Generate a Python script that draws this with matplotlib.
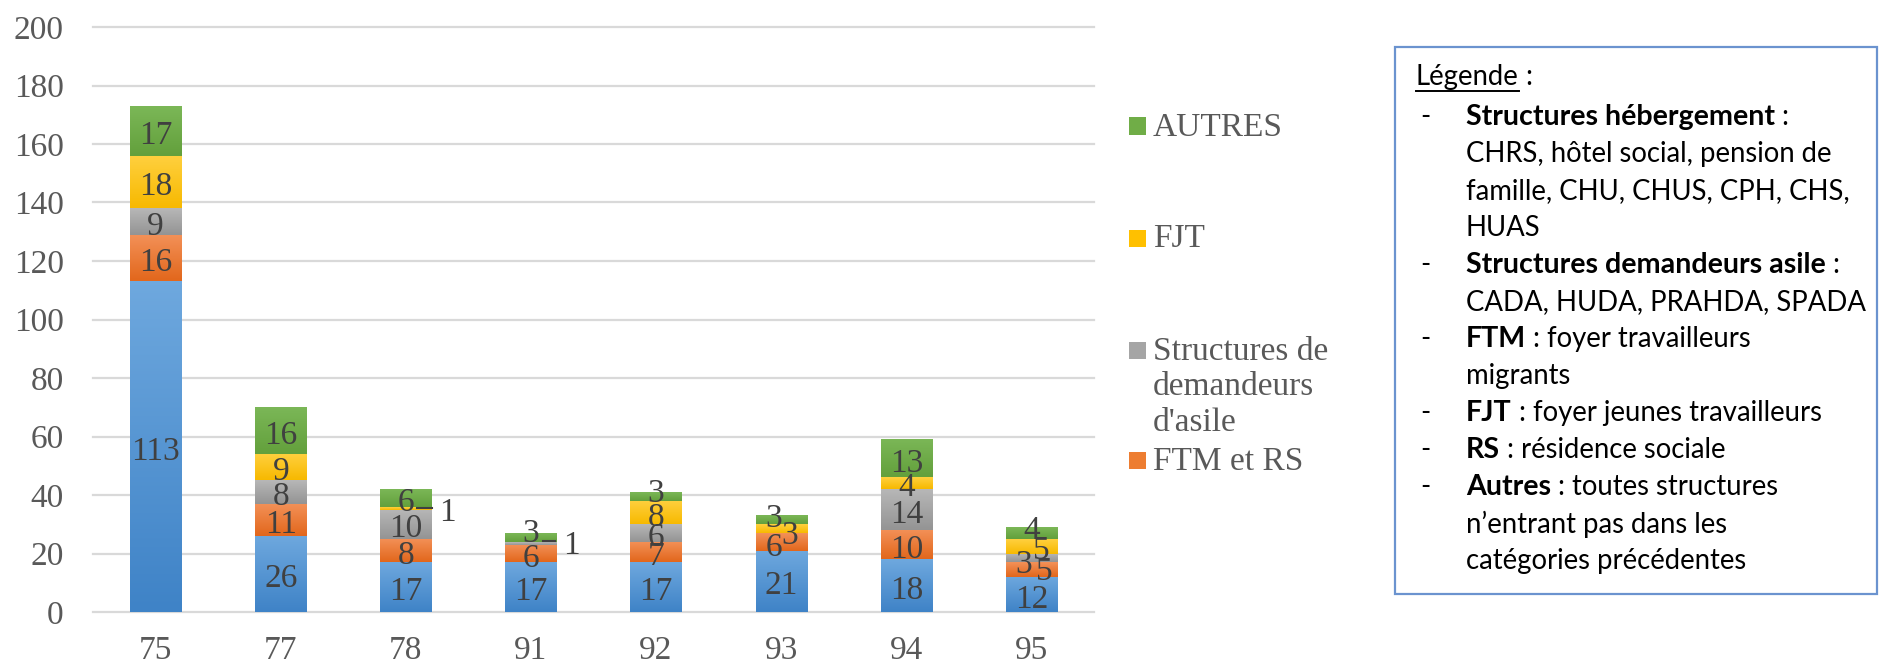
import matplotlib
matplotlib.use('Agg')
import matplotlib.pyplot as plt
import numpy as np
from matplotlib.colors import LinearSegmentedColormap
from matplotlib.patches import Rectangle
from matplotlib.lines import Line2D

# ---------------- data ----------------
departements = ['75', '77', '78', '91', '92', '93', '94', '95']
hebergement = [113, 26, 17, 17, 17, 21, 18, 12]
ftm_rs = [16, 11, 8, 6, 7, 6, 10, 5]
asile = [9, 8, 10, 1, 6, 0, 14, 3]
fjt = [18, 9, 1, 0, 8, 3, 4, 5]
autres = [17, 16, 6, 3, 3, 3, 13, 4]
y_ticks = [0, 20, 40, 60, 80, 100, 120, 140, 160, 180, 200]

legend_labels = ['AUTRES', 'FJT', "Structures de\ndemandeurs\nd'asile", 'FTM et RS']

legend_box_lines = [
    [("Structures hébergement", True), (" :", False)],
    [("CHRS, hôtel social, pension de", False)],
    [("famille, CHU, CHUS, CPH, CHS,", False)],
    [("HUAS", False)],
    [("Structures demandeurs asile", True), (" :", False)],
    [("CADA, HUDA, PRAHDA, SPADA", False)],
    [("FTM", True), (" : foyer travailleurs", False)],
    [("migrants", False)],
    [("FJT", True), (" : foyer jeunes travailleurs", False)],
    [("RS", True), (" : résidence sociale", False)],
    [("Autres", True), (" : toutes structures", False)],
    [("n\u2019entrant pas dans les", False)],
    [("catégories précédentes", False)],
]
dash_lines = [0, 4, 6, 8, 9, 10]

# ---------------- style ----------------
W, H = 1880, 665
series = [hebergement, ftm_rs, asile, fjt, autres]
mid_colors = ['#5B9BD5', '#ED7D31', '#A5A5A5', '#FFC000', '#70AD47']
top_colors = ['#6EA8DE', '#F39158', '#B7B7B7', '#FFD03F', '#7BB757']
bot_colors = ['#3F83C7', '#E2671C', '#949494', '#F7B900', '#63A03C']
SERIF = ['Liberation Serif', 'DejaVu Serif']
SANS = ['Lato', 'DejaVu Sans']
FS = 24
LBL_COL = '#404040'
TICK_COL = '#595959'

# label adjustments (series index, category index): (dx, dy)
label_adjust = {
    (3, 2): (0.33, 0.0),
    (2, 3): (0.32, 1.0),
    (4, 3): (0.0, 3.0),
    (4, 4): (0.0, 2.5),
    (4, 5): (-0.06, 2.0),
    (3, 5): (0.07, -0.6),
    (1, 5): (-0.06, -0.3),
    (4, 7): (0.0, 2.4),
    (3, 7): (0.08, 0.2),
    (2, 7): (-0.06, -0.7),
    (1, 7): (0.10, 0.8),
}
leaders = {(3, 2): (0.09, 0.21, 35.7), (2, 3): (0.10, 0.19, 24.2)}

fig = plt.figure(figsize=(W / 100, H / 100), dpi=100)
ax = fig.add_axes([93 / W, 1 - 612 / H, (1094 - 93) / W, (612 - 27) / H])

x = np.arange(len(departements))
bottom = np.zeros(len(departements))
bw = 0.41
for si, vals in enumerate(series):
    vals = np.array(vals, dtype=float)
    bars = ax.bar(x, vals, bw, bottom=bottom, color=mid_colors[si], zorder=2, linewidth=0)
    cmap = LinearSegmentedColormap.from_list('g%d' % si, [bot_colors[si], top_colors[si]])
    for ci, rect in enumerate(bars):
        h = rect.get_height()
        if h <= 0:
            continue
        x0 = rect.get_x()
        y0 = rect.get_y()
        grad = np.linspace(0, 1, 64).reshape(-1, 1)
        im = ax.imshow(grad, extent=(x0, x0 + rect.get_width(), y0, y0 + h), origin='lower',
                       aspect='auto', cmap=cmap, zorder=2.1, interpolation='bilinear')
        im.set_clip_path(rect)
        dx, dy = label_adjust.get((si, ci), (0.0, 0.0))
        ax.annotate('%d' % vals[ci], xy=(x[ci] + dx, y0 + h / 2 + dy), xytext=(0, -9.5),
                    textcoords='offset points', ha='center', va='baseline',
                    fontsize=FS, family=SERIF, color=LBL_COL, zorder=4)
        if (si, ci) in leaders:
            a, b, yy = leaders[(si, ci)]
            ax.plot([x[ci] + a, x[ci] + b], [yy, yy], color=LBL_COL, lw=1.5, zorder=4)
    bottom = bottom + vals

ax.set_xlim(-0.5, len(departements) - 0.5)
ax.set_ylim(0, 200)
ax.set_yticks(y_ticks)
ax.set_xticks(x)
ax.set_xticklabels(departements)
ax.yaxis.grid(True, color='#D9D9D9', linewidth=1.6, zorder=0)
ax.set_axisbelow(True)
for gl in ax.get_ygridlines():
    gl.set_clip_on(False)
for s in ax.spines.values():
    s.set_visible(False)
ax.tick_params(axis='both', length=0, labelsize=FS, labelcolor=TICK_COL)
ax.tick_params(axis='y', pad=21)
ax.tick_params(axis='x', pad=17)
for lab in ax.get_xticklabels() + ax.get_yticklabels():
    lab.set_family(SERIF)


def fpx(px, py):
    return (px / W, 1 - py / H)


# chart legend (series shown at right of plot)
leg_y = [126, 238, 350, 460]
leg_cols = [mid_colors[4], mid_colors[3], mid_colors[2], mid_colors[1]]
for lab, yy, col in zip(legend_labels, leg_y, leg_cols):
    fig.patches.append(Rectangle(fpx(1129, yy + 8.5), 17 / W, 17 / H, transform=fig.transFigure,
                                 facecolor=col, edgecolor='none'))
    fig.text(*fpx(1153, yy - 14), lab, fontsize=FS, family=SERIF, color=TICK_COL,
             ha='left', va='top', linespacing=1.22)

# explanatory box
fig.patches.append(Rectangle(fpx(1395, 594), (1877 - 1395) / W, (594 - 47) / H,
                             transform=fig.transFigure, fill=False, edgecolor='#6B93CF', lw=1.6))
renderer = fig.canvas.get_renderer()
BFS = 19.8
t = fig.text(*fpx(1416, 77), 'Légende', fontsize=BFS, family=SANS, color='black', ha='left', va='center')
bb = t.get_window_extent(renderer)
fig.lines.append(Line2D([bb.x0 / W, bb.x1 / W], [(H - 91) / H, (H - 91) / H], transform=fig.transFigure,
                        color='black', lw=1.4))
fig.text((bb.x1) / W, 1 - 77 / H, ' :', fontsize=BFS, family=SANS, color='black', ha='left', va='center')

line_y0 = 116.8
line_step = 37.05
for i, parts in enumerate(legend_box_lines):
    yy = line_y0 + i * line_step
    if i in dash_lines:
        fig.text(*fpx(1420, yy), '-', fontsize=BFS, family=SANS, color='black', ha='left', va='center')
    xx = 1466
    for txt, bold in parts:
        tt = fig.text(*fpx(xx, yy), txt, fontsize=BFS * (1.04 if bold else 1.0), family=SANS,
                      color='black', fontweight='bold' if bold else 'normal', ha='left', va='center')
        xx += tt.get_window_extent(renderer).width

fig.savefig('out.png', dpi=100)
